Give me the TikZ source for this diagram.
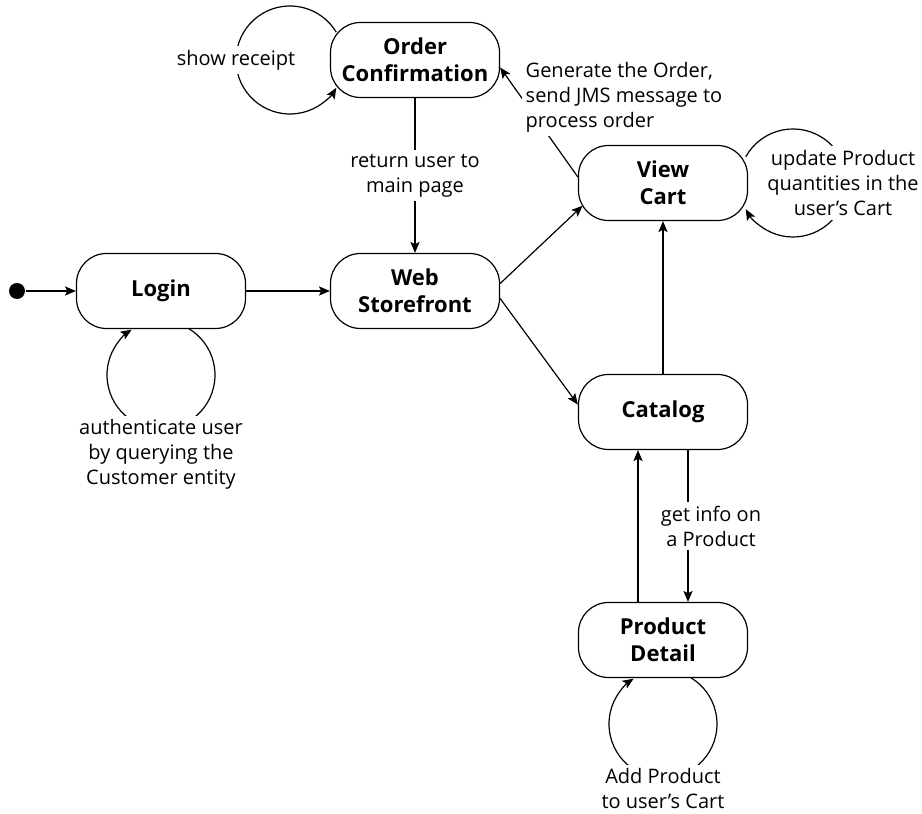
\documentclass[tikz,border=0pt]{standalone}
\usepackage{fontspec}
\setmainfont{Open Sans}
\usetikzlibrary{arrows.meta}

\begin{document}
\begin{tikzpicture}[x=0.5pt, y=0.5pt, line width=0.6pt,
  >={Stealth[length=5.5pt,width=4.6pt,inset=1.2pt]},
  stato/.style={draw, rounded corners=15pt, minimum width=84.5pt, minimum height=37.5pt,
    inner sep=0pt, align=center, font=\bfseries\fontsize{11}{13.5}\selectfont},
  etichetta/.style={fill=white, inner sep=2pt, align=center, font=\fontsize{10}{12.5}\selectfont}]

\useasboundingbox (0,0) rectangle (922,814);

% Raggio degli anelli
\def\rl{27pt}

% Stati
\node[circle, fill, inner sep=0pt, minimum size=8pt] (inizio) at (17,523) {};
\node[stato] (login) at (161,523) {Login};
\node[stato] (web) at (415,523) {Web\\Storefront};
\node[stato] (ordine) at (415,754) {Order\\Confirmation};
\node[stato] (carrello) at (663,631) {View\\Cart};
\node[stato] (catalogo) at (663,402) {Catalog};
\node[stato] (prodotto) at (663,174) {Product\\Detail};

% Transizioni
\draw[->] (inizio) -- (login);
\draw[->] (login) -- (web);
\draw[->] (ordine) -- node[etichetta] (l_ritorno) {return user to\\main page} (web);
\draw[->] (web.5) -- ([xshift=2.3pt]carrello.195);
\draw[->] (web.-5) -- (catalogo.175);
\draw[->] (catalogo) -- (carrello);
\draw[->] ([xshift=-12.5pt]prodotto.north) -- ([xshift=-12.5pt]catalogo.south);
\draw[->] ([xshift=12.5pt]catalogo.south) -- node[etichetta, xshift=11.5pt] (l_info) {get info on\\a Product} ([xshift=12.5pt]prodotto.north);
\draw[->] (carrello.176) -- node[etichetta, pos=0.73, anchor=west, align=left] (l_genera)
  {Generate the Order,\\send JMS message to\\process order} (ordine.-5);

% Anelli
\draw[->] ([xshift=-62.5pt]ordine.center) ++(31:\rl) arc[start angle=31, end angle=329, radius=\rl];
\node[etichetta] (l_ricevuta) at ([xshift=-89.5pt]ordine.center) {show receipt};

\draw[->] ([xshift=65pt]carrello.center) ++(151:\rl) arc[start angle=151, end angle=-151, radius=\rl];
\node[etichetta] (l_quantita) at ([xshift=90pt]carrello.center) {update Product\\quantities in the\\user’s Cart};

\draw[->] ([yshift=-42pt]login.center) ++(59:\rl) arc[start angle=59, end angle=-237, radius=\rl];
\node[etichetta, anchor=north] (l_auth) at ([yshift=-62pt]login.center) {authenticate user\\by querying the\\Customer entity};

\draw[->] ([yshift=-42pt]prodotto.center) ++(59:\rl) arc[start angle=59, end angle=-237, radius=\rl];
\node[etichetta, anchor=north] (l_aggiungi) at ([yshift=-62pt]prodotto.center) {Add Product\\to user’s Cart};

\end{tikzpicture}
\end{document}
